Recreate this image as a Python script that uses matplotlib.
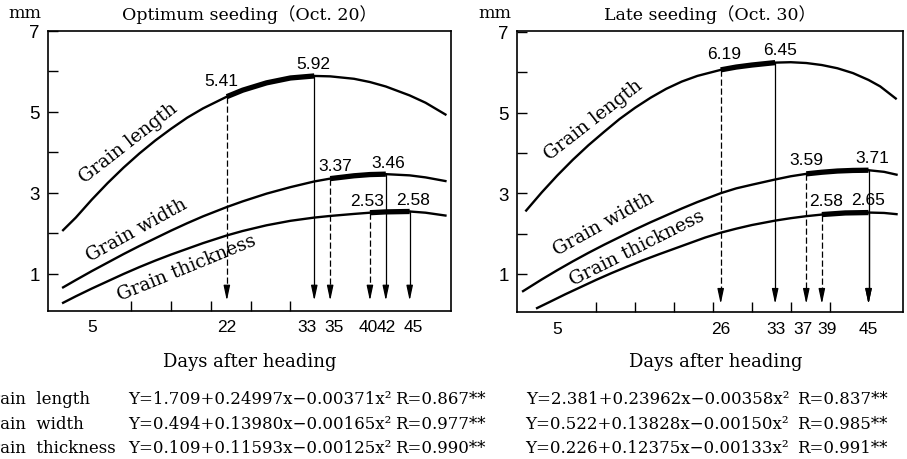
import matplotlib
matplotlib.use('Agg')
import matplotlib.pyplot as plt
import matplotlib.transforms as mtransforms
from matplotlib import font_manager

# ---------------- data ----------------
# Optimum seeding (Oct. 20)
opt_days = [1.4, 3, 5, 7, 9, 11, 13, 15, 17, 19, 22, 24, 27, 30, 33, 35, 38, 40, 42, 45, 47, 49.5]
opt_length = [2.08, 2.39, 2.83, 3.24, 3.62, 3.97, 4.29, 4.58, 4.85, 5.08, 5.37, 5.53, 5.71,
              5.83, 5.88, 5.87, 5.81, 5.73, 5.62, 5.40, 5.22, 4.93]
opt_width = [0.67, 0.85, 1.07, 1.28, 1.49, 1.69, 1.88, 2.07, 2.25, 2.42, 2.65, 2.79, 2.98,
             3.14, 3.28, 3.35, 3.42, 3.45, 3.46, 3.43, 3.38, 3.29]
opt_thick = [0.29, 0.45, 0.64, 0.82, 1.00, 1.17, 1.33, 1.48, 1.62, 1.76, 1.95, 2.06, 2.20,
             2.31, 2.39, 2.43, 2.48, 2.51, 2.53, 2.54, 2.51, 2.44]
opt_marks = [(22, 33), (35, 42), (40, 45)]           # length, width, thickness
opt_mark_labels = [("5.41", "5.92"), ("3.37", "3.46"), ("2.53", "2.58")]
opt_tick_days = [5, 22, 33, 35, 40, 42, 45]

# Late seeding (Oct. 30)
late_len_days = [1, 3, 5, 7, 9, 11, 13, 15, 17, 19, 21, 23, 26, 28, 30, 33, 35, 37, 39, 41,
                 43, 45, 46.5, 48.5]
late_length = [2.57, 3.02, 3.44, 3.83, 4.19, 4.52, 4.84, 5.12, 5.37, 5.59, 5.77, 5.91, 6.06,
               6.13, 6.18, 6.24, 6.25, 6.23, 6.18, 6.10, 5.98, 5.81, 5.65, 5.35]
late_wid_days = [0.6, 3, 5, 7, 9, 11, 13, 15, 17, 19, 21, 23, 26, 28, 30, 33, 35, 37, 39, 41,
                 43, 45, 47, 48.6]
late_width = [0.57, 0.86, 1.09, 1.31, 1.52, 1.72, 1.91, 2.10, 2.28, 2.45, 2.62, 2.78, 3.00,
              3.12, 3.21, 3.34, 3.42, 3.48, 3.52, 3.55, 3.565, 3.57, 3.53, 3.46]
late_thk_days = [2.4, 4, 6, 8, 10, 12, 14, 16, 18, 20, 22, 24, 26, 28, 30, 33, 35, 37, 39, 42,
                 45, 47, 48.6]
late_thick = [0.15, 0.30, 0.49, 0.67, 0.85, 1.02, 1.18, 1.335, 1.48, 1.62, 1.76, 1.90, 2.02,
              2.12, 2.21, 2.32, 2.38, 2.43, 2.47, 2.51, 2.52, 2.51, 2.48]
late_marks = [(26, 33), (37, 45), (39, 45)]
late_mark_labels = [("6.19", "6.45"), ("3.59", "3.71"), ("2.58", "2.65")]
late_tick_days = [5, 26, 33, 37, 39, 45]

curve_names = ["Grain length", "Grain width", "Grain thickness"]
eq_names = ["Grain  length", "Grain  width", "Grain  thickness"]
opt_eqs = ["Y=1.709+0.24997x\u22120.00371x\u00b2",
           "Y=0.494+0.13980x\u22120.00165x\u00b2",
           "Y=0.109+0.11593x\u22120.00125x\u00b2"]
opt_R = ["R=0.867**", "R=0.977**", "R=0.990**"]
late_eqs = ["Y=2.381+0.23962x\u22120.00358x\u00b2",
            "Y=0.522+0.13828x\u22120.00150x\u00b2",
            "Y=0.226+0.12375x\u22120.00133x\u00b2"]
late_R = ["R=0.837**", "R=0.985**", "R=0.991**"]

# ---------------- style ----------------
W, H = 907, 460
SERIF = ['DejaVu Serif']
TITLE_FAM = ['DejaVu Serif', 'Noto Sans CJK JP']
names_avail = {f.name for f in font_manager.fontManager.ttflist}
if 'Liberation Sans Narrow' in names_avail:
    XT_FAM, XT_SIZE = 'Liberation Sans Narrow', 14
else:
    XT_FAM, XT_SIZE = 'Liberation Sans', 12.5
NUM_FAM = 'Liberation Sans'

fig = plt.figure(figsize=(W / 100, H / 100), dpi=100)
fig.patch.set_facecolor('white')


def px_axes(x0, y0, x1, y1):
    return [x0 / W, 1 - y1 / H, (x1 - x0) / W, (y1 - y0) / H]


ax1 = fig.add_axes(px_axes(48, 31.5, 451, 311.7))
ax2 = fig.add_axes(px_axes(517, 32.3, 903.3, 313.3))


def draw_panel(ax, series, marks, mark_labels, tick_days, xlim, ylim, tip,
               name_pos, label_shift, value_offsets):
    ax.set_xlim(*xlim)
    ax.set_ylim(*ylim)
    for sp in ax.spines.values():
        sp.set_linewidth(1.2)
    k = 0
    for (days, vals), (d0, d1), (l0, l1) in zip(series, marks, mark_labels):
        ax.plot(days, vals, color='black', lw=1.7, solid_joinstyle='round', zorder=3)
        seg_x = [d for d in days if d0 <= d <= d1]
        seg_y = [v for d, v in zip(days, vals) if d0 <= d <= d1]
        ax.plot(seg_x, seg_y, color='black', lw=3.8, solid_capstyle='butt',
                solid_joinstyle='round', zorder=4)
        v0 = vals[days.index(d0)]
        v1 = vals[days.index(d1)]
        for d, v, dashed in ((d0, v0, True), (d1, v1, False)):
            head = 0.3
            ax.plot([d, d], [v, tip + head], color='black', lw=0.9,
                    ls=(0, (5, 2.2)) if dashed else '-', zorder=2)
            ax.annotate('', xy=(d, tip), xytext=(d, tip + head),
                        arrowprops=dict(arrowstyle='-|>,head_length=0.75,head_width=0.16',
                                        color='black', lw=0.9, shrinkA=0, shrinkB=0,
                                        mutation_scale=12), zorder=2)
        for d, v, lab in ((d0, v0, l0), (d1, v1, l1)):
            dx, dy = value_offsets[k]
            k += 1
            ax.annotate(lab, xy=(d, v), xytext=(dx * 0.72, dy * 0.72),
                        textcoords='offset points', ha='center', va='center',
                        fontsize=12.5, family=NUM_FAM)
    for name, (x, y, rot) in zip(curve_names, name_pos):
        ax.text(x, y, name, rotation=rot, rotation_mode='anchor', ha='center',
                va='center', fontsize=13.5, family=SERIF)
    ax.set_xticks(list(range(5, 50, 5)), minor=True)
    ax.set_xticks(tick_days)
    ax.set_xticklabels([str(d) for d in tick_days], family=XT_FAM, fontsize=XT_SIZE)
    ax.tick_params(axis='x', which='minor', direction='in', length=7, width=1.0,
                   labelbottom=False)
    ax.tick_params(axis='x', which='major', direction='in', length=0, pad=6)
    for tick, d in zip(ax.xaxis.get_major_ticks(), tick_days):
        if d in label_shift:
            lab = tick.label1
            lab.set_transform(lab.get_transform() + mtransforms.ScaledTranslation(
                label_shift[d] / 100, 0, fig.dpi_scale_trans))
    ax.set_yticks([1, 3, 5, 7])
    ax.set_yticks([2, 4, 6], minor=True)
    ax.set_yticklabels(['1', '3', '5', '7'], family=NUM_FAM, fontsize=13.5)
    ax.tick_params(axis='y', which='both', direction='in', length=7, width=1.0, pad=6)


draw_panel(ax1,
           [(opt_days, opt_length), (opt_days, opt_width), (opt_days, opt_thick)],
           opt_marks, opt_mark_labels, opt_tick_days,
           (-0.5, 50.2), (0.095, 7.0), 0.34,
           [(9.6, 4.25, 38), (10.65, 2.11, 29), (17.0, 1.17, 22.3)],
           {33: -7, 35: 4, 40: -2, 45: 4},
           [(-6, 16), (-1, 12), (5, 13), (2, 12), (-3, 12), (3, 12)])
draw_panel(ax2,
           [(late_len_days, late_length), (late_wid_days, late_width),
            (late_thk_days, late_thick)],
           late_marks, late_mark_labels, late_tick_days,
           (-0.18, 49.47), (0.045, 7.017), 0.25,
           [(9.63, 4.84, 38), (11.0, 2.26, 29.2), (15.2, 1.66, 26.6)],
           {33: 1, 37: -3, 39: 5},
           [(3, 16), (5, 13), (0, 14), (4, 13), (4, 14), (0, 13)])

fig.text(25 / W, 1 - 14 / H, 'mm', ha='center', va='center', fontsize=12.5, family=SERIF)
fig.text(495 / W, 1 - 14 / H, 'mm', ha='center', va='center', fontsize=12.5, family=SERIF)
fig.text(249.5 / W, 1 - 15 / H, 'Optimum seeding\uff08Oct. 20\uff09', ha='center',
         va='center', fontsize=12.5, family=TITLE_FAM)
fig.text(710 / W, 1 - 15 / H, 'Late seeding\uff08Oct. 30\uff09', ha='center',
         va='center', fontsize=12.5, family=TITLE_FAM)
fig.text(249.5 / W, 1 - 361.7 / H, 'Days after heading', ha='center', va='center',
         fontsize=13, family=SERIF)
fig.text(716 / W, 1 - 361.7 / H, 'Days after heading', ha='center', va='center',
         fontsize=13, family=SERIF)

for i, yy in enumerate([400, 425, 448.3]):
    fy = 1 - yy / H
    fig.text(-21 / W, fy, eq_names[i], ha='left', va='center', fontsize=12, family=SERIF)
    fig.text(128 / W, fy, opt_eqs[i], ha='left', va='center', fontsize=12, family=SERIF)
    fig.text(395 / W, fy, opt_R[i], ha='left', va='center', fontsize=12, family=SERIF)
    fig.text(789 / W, fy, late_eqs[i], ha='right', va='center', fontsize=12, family=SERIF)
    fig.text(797 / W, fy, late_R[i], ha='left', va='center', fontsize=12, family=SERIF)

fig.savefig('out.png', dpi=100, facecolor='white')
